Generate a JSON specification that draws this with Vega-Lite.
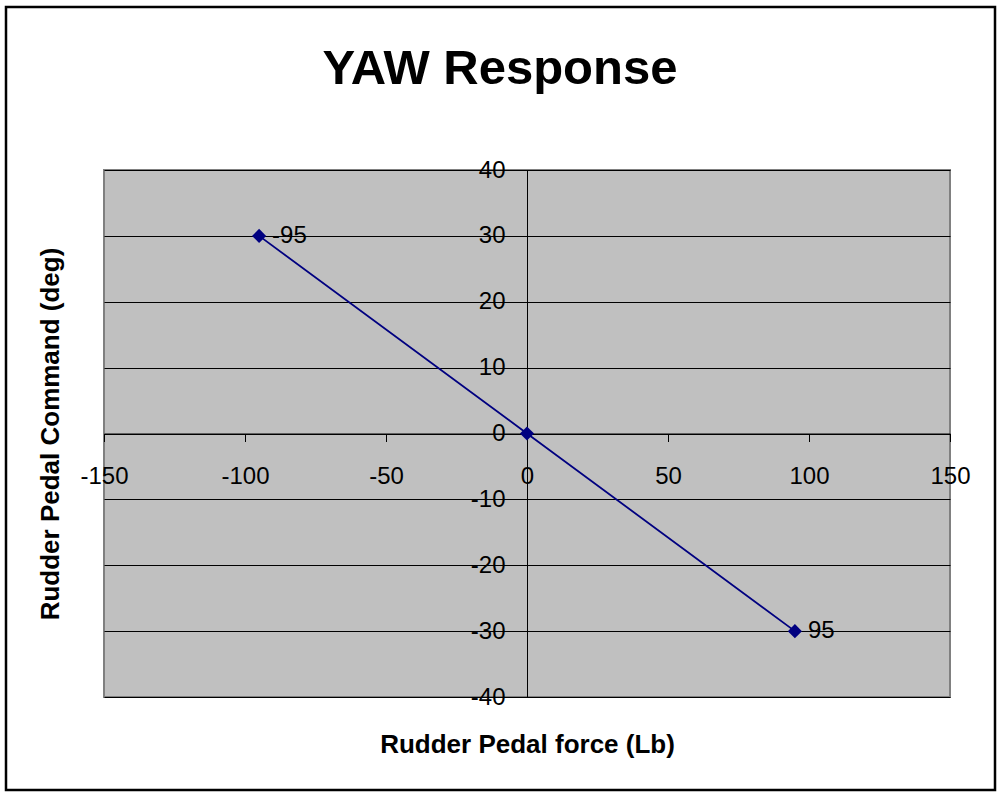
{
  "$schema": "https://vega.github.io/schema/vega-lite/v6.json",
  "autosize": "none",
  "padding": {"left": 104, "top": 170, "right": 48, "bottom": 99},
  "width": 846,
  "height": 527,
  "background": "white",
  "title": {
    "text": "YAW Response",
    "font": "Liberation Sans",
    "fontSize": 49,
    "fontWeight": "bold",
    "color": "black",
    "anchor": "middle",
    "dx": -27,
    "offset": -88
  },
  "data": {
    "values": [
      {"force": -95, "command": 30, "label": "-95"},
      {"force": 0, "command": 0, "label": ""},
      {"force": 95, "command": -30, "label": "95"}
    ]
  },
  "encoding": {
    "x": {
      "field": "force",
      "type": "quantitative",
      "title": "Rudder Pedal force (Lb)",
      "scale": {"domain": [-150, 150], "nice": false, "zero": false},
      "axis": {
        "orient": "bottom",
        "offset": -263.5,
        "values": [-150, -100, -50, 0, 50, 100, 150],
        "labelExpr": "'' + datum.value",
        "grid": false,
        "labelPadding": 23,
        "titleY": 319,
        "titleBaseline": "alphabetic"
      }
    },
    "y": {
      "field": "command",
      "type": "quantitative",
      "title": "Rudder Pedal Command (deg)",
      "scale": {"domain": [-40, 40], "nice": false, "zero": false},
      "axis": {
        "orient": "left",
        "offset": -423,
        "values": [-40, -30, -20, -10, 0, 10, 20, 30, 40],
        "labelExpr": "'' + datum.value",
        "grid": true,
        "labelPadding": 14,
        "titleAngle": -90,
        "titleX": -469,
        "titleY": 263.5,
        "titleAlign": "center",
        "titleBaseline": "alphabetic"
      }
    }
  },
  "layer": [
    {
      "data": {"values": [{"frame": "chart"}]},
      "mark": {"type": "rect", "fill": "white", "fillOpacity": 0, "stroke": "black", "strokeWidth": 2.5, "clip": false},
      "encoding": {
        "x": {"value": -98},
        "x2": {"value": 891},
        "y": {"value": -163},
        "y2": {"value": 620}
      }
    },
    {
      "mark": {"type": "line", "color": "#000080", "strokeWidth": 1.8}
    },
    {
      "mark": {"type": "point", "shape": "diamond", "filled": true, "size": 200, "color": "#000080", "opacity": 1}
    },
    {
      "mark": {"type": "text", "align": "left", "baseline": "middle", "dx": 13, "fontSize": 24, "font": "Liberation Sans", "color": "black"},
      "encoding": {"text": {"field": "label", "type": "nominal"}}
    }
  ],
  "config": {
    "view": {"fill": "#C0C0C0", "stroke": "#808080", "strokeWidth": 2},
    "axis": {
      "labelFont": "Liberation Sans",
      "labelFontSize": 24,
      "labelColor": "black",
      "titleFont": "Liberation Sans",
      "titleFontSize": 26,
      "titleFontWeight": "bold",
      "titleColor": "black",
      "domainColor": "black",
      "domainWidth": 1,
      "tickColor": "black",
      "tickSize": 8,
      "tickWidth": 1,
      "gridColor": "black",
      "gridWidth": 1,
      "gridOpacity": 1,
      "labelOverlap": false,
      "labelFlush": false
    }
  }
}
